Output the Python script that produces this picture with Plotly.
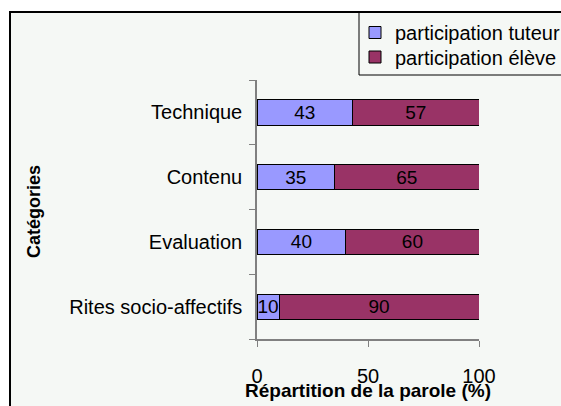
import plotly.graph_objects as go

categories = ["Technique", "Contenu", "Evaluation", "Rites socio-affectifs"]
tuteur = [43, 35, 40, 10]
eleve = [57, 65, 60, 90]
series_names = ["participation tuteur", "participation élève"]
x_ticks = [0, 50, 100]

FONT = "Liberation Sans, Arial, sans-serif"
BG = "#F5F8F5"

fig = go.Figure()
fig.add_trace(go.Bar(
    y=categories, x=tuteur, orientation="h", name=series_names[0],
    marker=dict(color="#9999FF", line=dict(color="black", width=1)),
    texttemplate="%{x}", textposition="inside", insidetextanchor="middle",
    textangle=0, legend="legend",
    textfont=dict(color="black", size=19, family=FONT),
))
fig.add_trace(go.Bar(
    y=categories, x=eleve, orientation="h", name=series_names[1],
    marker=dict(color="#993366", line=dict(color="black", width=1)),
    texttemplate="%{x}", textposition="inside", insidetextanchor="middle",
    textangle=0, legend="legend2",
    textfont=dict(color="black", size=19, family=FONT),
))

def px_x(p):
    return (p - 257) / 222.0

def px_y(p):
    return (339 - p) / 259.0

legend_common = dict(
    x=px_x(355), xanchor="left", yanchor="middle",
    borderwidth=0, bgcolor="rgba(0,0,0,0)",
    font=dict(size=20, family=FONT, color="black"),
    itemwidth=30,
)

fig.update_layout(
    width=561, height=406,
    margin=dict(l=257, r=82, t=80, b=67, autoexpand=False),
    barmode="stack", bargap=0.61,
    paper_bgcolor="white", plot_bgcolor=BG,
    font=dict(family=FONT, size=20, color="black"),
    uniformtext=dict(minsize=19, mode="show"),
    showlegend=True,
    legend=dict(y=px_y(32.5), **legend_common),
    legend2=dict(y=px_y(57), **legend_common),
    xaxis=dict(
        range=[0, 100], tickvals=x_ticks, ticks="outside", ticklen=6,
        tickcolor="#808080", showline=True, linecolor="#808080", linewidth=1.5,
        showgrid=False, zeroline=False, ticklabelstandoff=12,
        tickfont=dict(size=20),
    ),
    yaxis=dict(
        categoryorder="array", categoryarray=categories[::-1],
        ticks="outside", ticklen=6, tickson="boundaries", tickcolor="#808080",
        showline=True, linecolor="#808080", linewidth=1.5, showgrid=False,
        ticklabelstandoff=9, tickfont=dict(size=20),
    ),
    shapes=[
        dict(type="rect", xref="paper", yref="paper", layer="below",
             x0=px_x(10), x1=px_x(570), y0=px_y(415), y1=px_y(12),
             fillcolor=BG, line=dict(color="black", width=2)),
        dict(type="rect", xref="paper", yref="paper", layer="above",
             x0=px_x(359), x1=px_x(575), y0=px_y(75), y1=px_y(12),
             fillcolor="rgba(0,0,0,0)", line=dict(color="black", width=1)),
    ],
    annotations=[
        dict(text="<b>Répartition de la parole (%)</b>", xref="paper", yref="paper",
             x=0.5, y=px_y(390), xanchor="center", yanchor="middle",
             showarrow=False, font=dict(size=19, family=FONT, color="black")),
        dict(text="<b>Catégories</b>", xref="paper", yref="paper",
             x=px_x(34), y=px_y(212), xanchor="center", yanchor="middle",
             textangle=-90, showarrow=False,
             font=dict(size=18, family=FONT, color="black")),
    ],
)

fig.write_html(
    "out.html",
    config={"displayModeBar": False},
    post_script="document.body.style.margin='0';document.body.style.overflow='hidden';",
)
